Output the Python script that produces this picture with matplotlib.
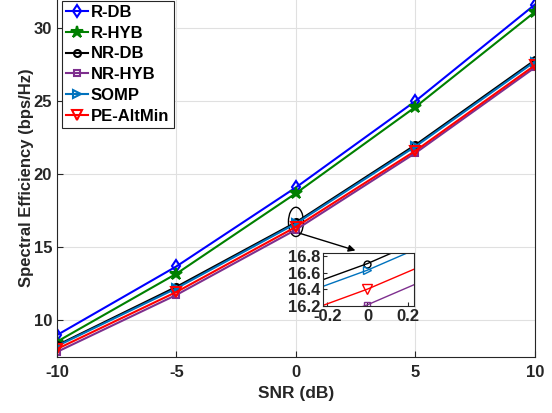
import numpy as np
import matplotlib
matplotlib.use('Agg')
import matplotlib.pyplot as plt
from matplotlib.patches import Ellipse

plt.rcParams['font.family'] = ['Liberation Sans', 'DejaVu Sans']
plt.rcParams['font.weight'] = 'bold'
plt.rcParams['axes.unicode_minus'] = False

# data
snr = [-10, -5, 0, 5, 10]
r_db = [9.0, 13.7, 19.1, 25.0, 31.6]
r_hyb = [8.55, 13.2, 18.7, 24.6, 31.1]
nr_db = [8.3, 12.3, 16.71, 22.0, 27.8]
nr_hyb = [7.85, 11.75, 16.21, 21.45, 27.3]
somp = [8.25, 12.2, 16.63, 21.9, 27.7]
pe_altmin = [8.05, 11.95, 16.40, 21.6, 27.45]

labels = ['R-DB', 'R-HYB', 'NR-DB', 'NR-HYB', 'SOMP', 'PE-AltMin']
series = [r_db, r_hyb, nr_db, nr_hyb, somp, pe_altmin]
colors = ['#0000ff', '#008000', '#000000', '#7e2f8e', '#0072bd', '#ff0000']
markers = ['d', '*', 'o', 's', '>', 'v']
msizes = [6, 9, 5, 5, 6, 7]
faces = ['none', '#008000', 'none', 'none', 'none', 'none']

fig = plt.figure(figsize=(5.52, 4.13), dpi=100)
ax = fig.add_axes([0.1033, 0.1356, 0.8657, 0.8674])

for y, lab, c, m, ms, fc in zip(series, labels, colors, markers, msizes, faces):
	ax.plot(snr, y, color=c, marker=m, markersize=ms, markerfacecolor=fc,
		markeredgewidth=1.5, linewidth=1.5, label=lab)

ax.set_xlim(-10, 10)
ax.set_ylim(7.5, 32)
ax.set_xticks([-10, -5, 0, 5, 10])
ax.set_yticks([10, 15, 20, 25, 30])
ax.grid(True, color='0.88', linewidth=0.8)
ax.set_axisbelow(True)
ax.tick_params(direction='in', labelsize=12, color='0.15', length=4)
ax.tick_params(axis='x', pad=6)
for s in ax.spines.values():
	s.set_color('0.15')
	s.set_linewidth(0.8)
for t in ax.get_xticklabels() + ax.get_yticklabels():
	t.set_fontweight('bold')
	t.set_color('0.15')
ax.set_xlabel('SNR (dB)', fontsize=12.5, fontweight='bold', color='0.15', labelpad=4)
ax.set_ylabel('Spectral Efficiency (bps/Hz)', fontsize=12, fontweight='bold', color='0.15', labelpad=0)

leg = ax.legend(loc='upper left', bbox_to_anchor=(0.01, 0.995), fontsize=12,
	handlelength=1.3, handletextpad=0.2, borderpad=0.25, labelspacing=0.35,
	fancybox=False, framealpha=1, borderaxespad=0)
leg.get_frame().set_edgecolor('0.15')
leg.get_frame().set_linewidth(0.8)
for t in leg.get_texts():
	t.set_fontweight('bold')

# zoom marker
ax.add_patch(Ellipse((0, 16.74), 0.63, 2.0, fill=False, edgecolor='k', linewidth=1.0))
ax.annotate('', xy=(2.6, 14.73), xytext=(0.04, 16.02),
	arrowprops=dict(arrowstyle='-|>', color='k', lw=1.0, mutation_scale=10))

# inset
axin = fig.add_axes([0.585, 0.259, 0.165, 0.128])
for y, c, m, ms in zip(series, colors, markers, msizes):
	axin.plot(snr, y, color=c, marker=m, markersize=ms, markerfacecolor='none',
		markeredgewidth=1.0, linewidth=1.0)
axin.set_xlim(-0.222, 0.232)
axin.set_ylim(16.195, 16.836)
axin.set_xticks([-0.2, 0, 0.2])
axin.set_xticklabels(['-0.2', '0', '0.2'])
axin.set_yticks([16.2, 16.4, 16.6, 16.8])
axin.tick_params(direction='in', labelsize=12, color='0.15', length=3, pad=2)
for s in axin.spines.values():
	s.set_color('0.15')
	s.set_linewidth(0.8)
for t in axin.get_xticklabels() + axin.get_yticklabels():
	t.set_fontweight('bold')
	t.set_color('0.15')

fig.savefig('out.png', dpi=100)
